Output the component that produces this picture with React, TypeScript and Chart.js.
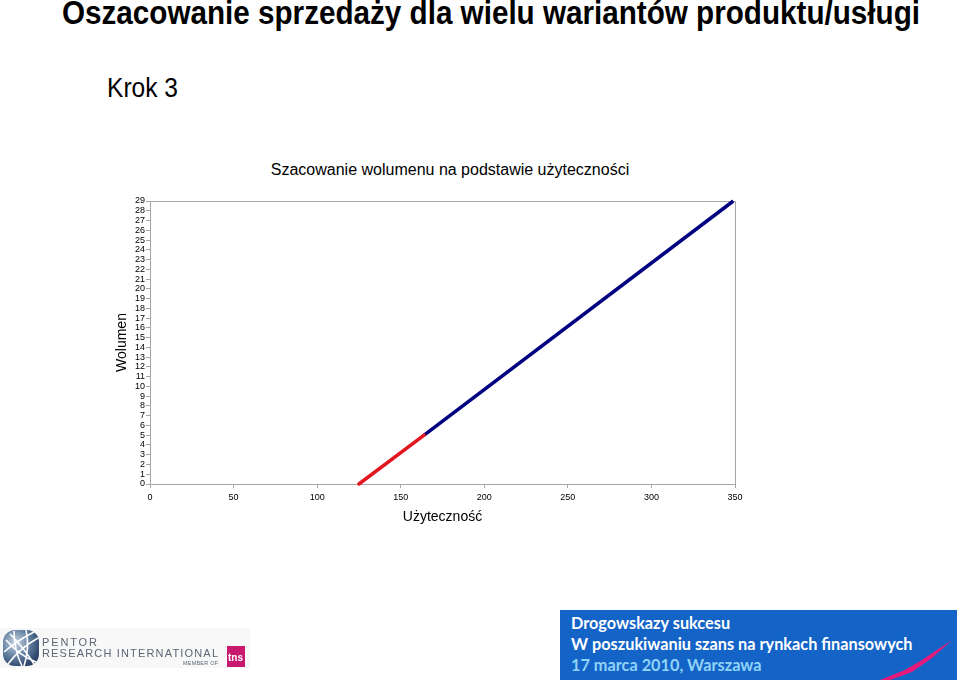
import React, { useEffect, useLayoutEffect, useRef } from "react";
import { Chart, registerables } from "chart.js";

Chart.register(...registerables);

const PAGE_TITLE = "Oszacowanie sprzedaży dla wielu wariantów produktu/usługi";
const STEP_LABEL = "Krok 3";
const CHART_TITLE = "Szacowanie wolumenu na podstawie użyteczności";
const X_TITLE = "Użyteczność";
const Y_TITLE = "Wolumen";

const utilityRed = [125, 164];
const volumeRed = [0, 5];
const utilityBlue = [164, 349];
const volumeBlue = [5, 29];

const X_MIN = 0;
const X_MAX = 350;
const X_STEP = 50;
const Y_MIN = 0;
const Y_MAX = 29;
const Y_STEP = 1;

const FOOTER_LINES = [
  "Drogowskazy sukcesu",
  "W poszukiwaniu szans na rynkach finansowych",
  "17 marca 2010, Warszawa",
];

const toPoints = (xs: number[], ys: number[]) => xs.map((x, i) => ({ x, y: ys[i] }));

const FONT = "'Liberation Sans', Arial, sans-serif";

const frameBorder = {
  id: "frameBorder",
  beforeDatasetsDraw(chart: any) {
    const { ctx, chartArea } = chart;
    ctx.save();
    ctx.strokeStyle = "#a6a6a6";
    ctx.lineWidth = 1;
    ctx.strokeRect(
      Math.round(chartArea.left) + 0.5,
      Math.round(chartArea.top) + 0.5,
      Math.round(chartArea.right - chartArea.left),
      Math.round(chartArea.bottom - chartArea.top)
    );
    ctx.restore();
  },
};

function FitText(props: { text: string; width: number; style: React.CSSProperties }) {
  const ref = useRef<HTMLSpanElement>(null);
  useLayoutEffect(() => {
    const el = ref.current;
    if (!el) return;
    el.style.transform = "none";
    const w = el.getBoundingClientRect().width;
    if (w > 0) el.style.transform = `scaleX(${props.width / w})`;
  }, [props.text, props.width]);
  return (
    <span
      ref={ref}
      style={{ ...props.style, display: "inline-block", whiteSpace: "nowrap", transformOrigin: "left top" }}
    >
      {props.text}
    </span>
  );
}

export default function App() {
  const canvasRef = useRef<HTMLCanvasElement>(null);

  useEffect(() => {
    if (!canvasRef.current) return;
    const chart = new Chart(canvasRef.current, {
      type: "line",
      data: {
        datasets: [
          {
            data: toPoints(utilityRed, volumeRed),
            borderColor: "#e3151f",
            borderWidth: 3.5,
            pointRadius: 0,
            clip: false as any,
            borderCapStyle: "round",
          },
          {
            data: toPoints(utilityBlue, volumeBlue),
            borderColor: "#000080",
            borderWidth: 3.5,
            pointRadius: 0,
            clip: false as any,
            borderCapStyle: "butt",
          },
        ],
      },
      options: {
        animation: false,
        responsive: false,
        maintainAspectRatio: false,
        layout: { padding: { left: 100, right: 225, top: 201, bottom: 142 } },
        plugins: { legend: { display: false }, tooltip: { enabled: false }, title: { display: false } },
        scales: {
          x: {
            type: "linear",
            min: X_MIN,
            max: X_MAX,
            afterFit: (s: any) => {
              s.height = 56;
            },
            ticks: {
              stepSize: X_STEP,
              color: "#000",
              font: { family: FONT, size: 9 },
              padding: 4,
              maxRotation: 0,
            },
            grid: { display: true, drawOnChartArea: false, drawTicks: true, tickLength: 4, color: "#a6a6a6" },
            border: { display: true, color: "#a6a6a6" },
            title: {
              display: true,
              text: X_TITLE,
              color: "#000",
              font: { family: FONT, size: 14 },
              padding: { top: 0, bottom: 14.6 },
            },
          },
          y: {
            type: "linear",
            min: Y_MIN,
            max: Y_MAX,
            afterFit: (s: any) => {
              s.width = 50;
            },
            ticks: {
              stepSize: Y_STEP,
              autoSkip: false,
              color: "#000",
              font: { family: FONT, size: 9, lineHeight: 1 },
              padding: 1,
            },
            grid: { display: true, drawOnChartArea: false, drawTicks: true, tickLength: 4, color: "#a6a6a6" },
            border: { display: true, color: "#a6a6a6" },
            title: {
              display: true,
              text: Y_TITLE,
              color: "#000",
              font: { family: FONT, size: 14 },
              padding: { top: 13.6, bottom: 0 },
            },
          },
        },
      },
      plugins: [frameBorder],
    });
    return () => chart.destroy();
  }, []);

  return (
    <div
      style={{
        position: "fixed",
        left: 0,
        top: 0,
        width: 960,
        height: 682,
        background: "#fff",
        overflow: "hidden",
        fontFamily: FONT,
      }}
    >
      <div style={{ position: "absolute", left: 62, top: -4, lineHeight: "33px" }}>
        <FitText
          text={PAGE_TITLE}
          width={858}
          style={{ fontFamily: "'Liberation Sans Narrow', 'Liberation Sans', Arial, sans-serif", fontWeight: 700, fontSize: 33, color: "#000" }}
        />
      </div>
      <div style={{ position: "absolute", left: 107, top: 74, lineHeight: "28px" }}>
        <FitText
          text={STEP_LABEL}
          width={71}
          style={{ fontFamily: "'Liberation Sans Narrow', 'Liberation Sans', Arial, sans-serif", fontSize: 28, color: "#000" }}
        />
      </div>
      <div
        style={{
          position: "absolute",
          left: 250,
          width: 400,
          top: 162,
          textAlign: "center",
          fontSize: 16,
          lineHeight: "16px",
          color: "#000",
        }}
      >
        {CHART_TITLE}
      </div>

      <canvas ref={canvasRef} width={960} height={682} style={{ position: "absolute", left: 0, top: 0, width: 960, height: 682 }} />

      {/* footer: logo */}
      <div style={{ position: "absolute", left: 0, top: 628, width: 250, height: 40, background: "#f8f8f8" }} />
      <svg style={{ position: "absolute", left: 0, top: 626 }} width={250} height={46}>
        <defs>
          <radialGradient id="globeG" cx="35%" cy="35%" r="70%">
            <stop offset="0%" stopColor="#c9d6e4" />
            <stop offset="60%" stopColor="#5d7a9c" />
            <stop offset="100%" stopColor="#2c4568" />
          </radialGradient>
        </defs>
        <rect x={3} y={4} width={36} height={36} rx={12} fill="url(#globeG)" />
        <path d="M6 14 Q20 30 36 36 M10 8 Q24 22 34 38 M4 26 Q18 14 34 6 M8 38 Q20 22 38 12 M14 5 Q14 24 22 40 M26 4 Q30 22 24 40" stroke="#fff" strokeWidth={1.6} fill="none" />
        <text x={42} y={20} fontFamily={FONT} fontSize={11} fill="#5b6675" textLength={55} lengthAdjust="spacing">PENTOR</text>
        <text x={42} y={31} fontFamily={FONT} fontSize={11} fill="#5b6675" textLength={176} lengthAdjust="spacing">RESEARCH INTERNATIONAL</text>
        <text x={183} y={39} fontFamily={FONT} fontSize={5.5} fill="#5b6675" textLength={35} lengthAdjust="spacing">MEMBER OF</text>
        <rect x={227} y={20} width={18} height={21} fill="#c8196e" />
        <text x={228} y={35} fontFamily={FONT} fontSize={10} fontWeight={700} fill="#fff">tns</text>
      </svg>

      {/* footer: banner */}
      <div style={{ position: "absolute", left: 560, top: 610, width: 397, height: 70, background: "#1464c8" }} />
      <svg style={{ position: "absolute", left: 560, top: 610 }} width={397} height={70}>
        <polygon points="320,70 345,60 362,50 392,30 372,48 352,62 330,70" fill="#e8197a" />
      </svg>
      <div
        style={{
          position: "absolute",
          left: 571,
          top: 612,
          fontFamily: "Lato, 'Open Sans', sans-serif",
          fontWeight: 700,
          fontSize: 16.3,
          lineHeight: "21px",
          whiteSpace: "nowrap",
        }}
      >
        <div style={{ color: "#ffffff" }}>{FOOTER_LINES[0]}</div>
        <div style={{ color: "#ffffff" }}>{FOOTER_LINES[1]}</div>
        <div style={{ color: "#8fd3f7" }}>{FOOTER_LINES[2]}</div>
      </div>
    </div>
  );
}
